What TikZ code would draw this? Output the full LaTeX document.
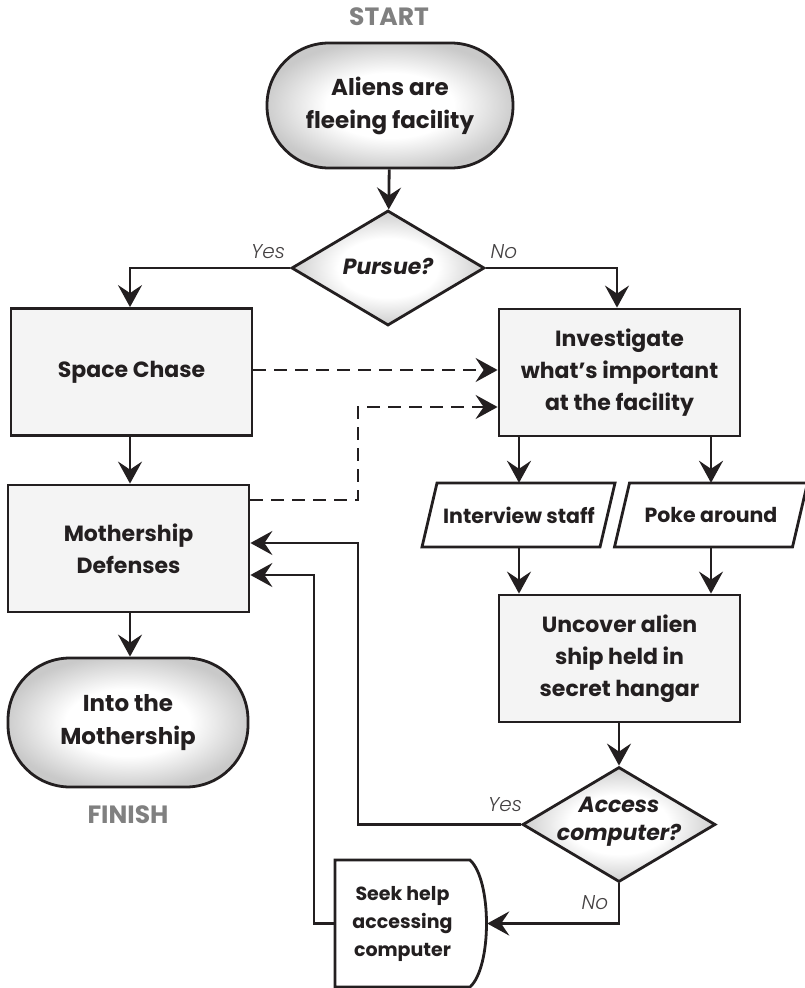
\documentclass[tikz,border=0pt]{standalone}
\usepackage{fontspec}
\setmainfont{Poppins}
\newfontfamily\lightfont{Poppins Light}[ItalicFont={Poppins Light Italic}]
\usetikzlibrary{shapes.geometric,arrows.meta,calc}
\definecolor{ink}{HTML}{231F20}
\definecolor{boxfill}{HTML}{F4F4F4}
\definecolor{labelgray}{HTML}{808080}
\pgfdeclareradialshading{softglow}{\pgfpoint{0bp}{0bp}}{color(0bp)=(white); color(13bp)=(white); color(26bp)=(black!21); color(50bp)=(black!21)}
\begin{document}
\begin{tikzpicture}[x=1pt,y=-1pt,
  every node/.style={text=ink},
  lw/.style={line width=2.8pt, draw=ink},
  boxnode/.style={lw, fill=boxfill, minimum width=241pt, minimum height=127pt, inner sep=0pt,
    align=center, font=\bfseries\fontsize{22}{32}\selectfont},
  termnode/.style={lw, rounded corners=62pt, inner sep=0pt, align=center,
    shading=softglow,
    font=\bfseries\fontsize{23}{33}\selectfont},
  dianode/.style={diamond, lw, minimum width=193pt, minimum height=115pt, inner sep=0pt,
    shading=softglow},
  diatext/.style={align=center, inner sep=0pt, font=\bfseries\itshape\fontsize{22}{28}\selectfont},
  ptext/.style={minimum width=178pt, minimum height=64pt, inner sep=0pt,
    font=\bfseries\fontsize{20.5}{28}\selectfont},
  pshape/.style={lw, fill=white, line join=miter},
  seektext/.style={minimum width=135pt, minimum height=127pt, inner sep=0pt, align=center,
    font=\bfseries\fontsize{19}{28}\selectfont},
  endlabel/.style={text=labelgray, font=\bfseries\fontsize{25}{30}\selectfont},
  yn/.style={text=ink!85, font=\lightfont\itshape\fontsize{20}{22}\selectfont},
  arr/.style={lw, -{Stealth[length=22pt,width=24pt,inset=8pt]}},
  darr/.style={arr, dash pattern=on 13pt off 8pt}
]
\useasboundingbox (0,0) rectangle (805,988);

% nodes
\node[endlabel] (startlbl) at (389,17) {START};
\node[termnode, minimum width=246pt, minimum height=125pt] (start) at (390,105.5) {Aliens are\\fleeing facility};
\node[dianode] (pursue) at (388,268) {};
\node[diatext] (pursuet) at (388,266) {Pursue?};
\node[boxnode] (space) at (131.5,372) {Space Chase};
\node[boxnode] (invest) at (619.5,372.5) {Investigate\\what’s important\\at the facility};
\node[boxnode] (moth) at (128.5,548.5) {Mothership\\Defenses};
\node[termnode, minimum width=240pt, minimum height=129pt] (finish) at (128,722.5) {Into the\\Mothership};
\node[endlabel] (finishlbl) at (128,815) {FINISH};

\draw[pshape] (437,483) -- (615,483) -- (600,547) -- (422,547) -- cycle;
\node[ptext] (iv) at (519,515) {Interview staff};
\draw[pshape] (629.5,483) -- (807.5,483) -- (792.5,547) -- (614.5,547) -- cycle;
\node[ptext] (poke) at (711,515) {Poke around};

\node[boxnode] (uncover) at (619.5,658.5) {Uncover alien\\ship held in\\secret hangar};
\node[dianode] (access) at (619,824.5) {};
\node[diatext] (accesst) at (619,822) {Access\\computer?};

\draw[lw, fill=white] (335,860) -- (470,860) .. controls (492,880) and (492,967) .. (470,987) -- (335,987) -- cycle;
\node[seektext] (seek) at (402.5,923.5) {Seek help\\accessing\\computer};

\coordinate (jx1) at (358,0);
\coordinate (jx2) at (314,0);

% connectors
\draw[arr] (start) -- (pursue);
\draw[arr] (pursue.west) -| ([xshift=-1.5pt]space.north);
\draw[arr] (pursue.east) -| ([xshift=-2.5pt]invest.north);
\draw[darr] ([yshift=2pt]space.east) -- ([yshift=2pt]space.east -| invest.west);
\draw[darr] ([yshift=48.5pt]moth.east) -- ([yshift=48.5pt]moth.east -| jx1) |- ([yshift=-34.5pt]invest.west);
\draw[arr] ([xshift=-1.5pt]space.south) -- ([xshift=-1.5pt]space.south |- moth.north);
\draw[arr] ([xshift=1.5pt]moth.south) -- ([xshift=1.5pt]moth.south |- finish.north);
\draw[arr] (invest.south -| iv) -- (iv.north);
\draw[arr] (invest.south -| poke) -- (poke.north);
\draw[arr] (iv.south) -- (iv.south |- uncover.north);
\draw[arr] (poke.south) -- (poke.south |- uncover.north);
\draw[arr] (uncover.south -| access) -- (access.north);
\draw[arr] (access.west) -- (access.west -| jx1) |- ([yshift=5.5pt]moth.east);
\draw[arr] (access.south) |- ([xshift=17pt]seek.east);
\draw[arr] (seek.west) -- (seek.west -| jx2) |- ([yshift=-26.5pt]moth.east);

% branch labels
\node[yn] (y1) at (268,252) {Yes};
\node[yn] (n1) at (504,252) {No};
\node[yn] (y2) at (505,805) {Yes};
\node[yn] (n2) at (595,903) {No};
\end{tikzpicture}
\end{document}
